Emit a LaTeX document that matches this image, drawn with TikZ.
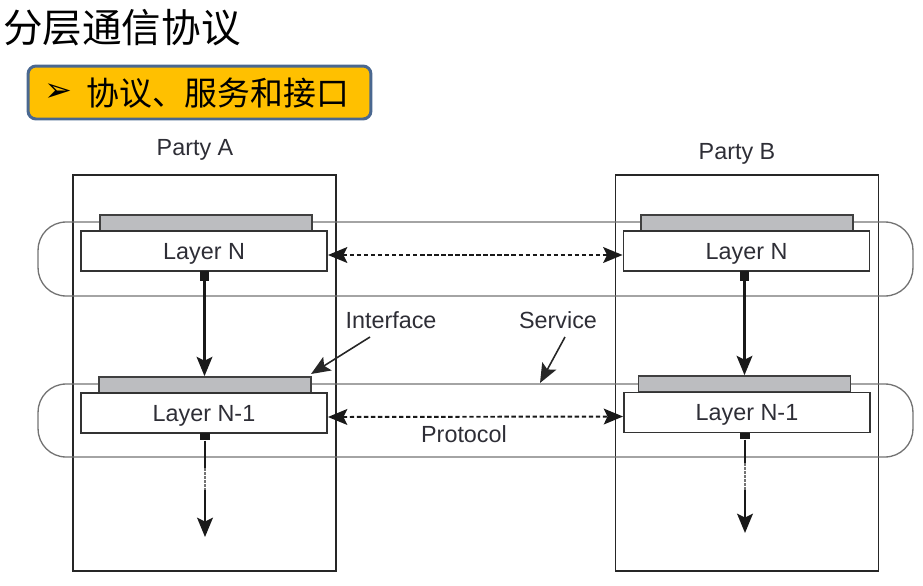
\documentclass[tikz,border=0pt]{standalone}
\usepackage{fontspec}
\setmainfont{Liberation Sans}
\newfontfamily\cjk{Noto Sans CJK SC}
\newfontfamily\dejavu{DejaVu Sans}
\usetikzlibrary{arrows.meta}
\definecolor{orangefill}{HTML}{FFC000}
\definecolor{boxborder}{HTML}{4A6890}
\definecolor{bargray}{HTML}{BCBDC0}
\definecolor{txt}{HTML}{2E2E36}
\begin{document}
\begin{tikzpicture}[x=0.02cm,y=-0.02cm,
 partybox/.style={draw=black!85, line width=0.9pt, minimum width=5.26cm, minimum height=7.92cm, inner sep=0pt},
 band/.style={draw=black!55, line width=0.75pt, rounded corners=0.56cm, minimum width=17.5cm, inner sep=0pt},
 layerbox/.style={draw=black!80, fill=white, line width=1.1pt, minimum width=4.92cm, minimum height=0.8cm, inner sep=0pt, text depth=0pt, font=\fontsize{13.3}{15}\selectfont, text=txt},
 bar/.style={draw=black!75, fill=bargray, line width=1pt, minimum width=4.24cm, minimum height=0.32cm, inner sep=0pt},
 sq/.style={fill=black!90, minimum size=0.19cm, inner sep=0pt},
 lbl/.style={font=\fontsize{13.3}{15}\selectfont, text=txt, inner sep=0pt},
 plainline/.style={line width=1.3pt, draw=black!90},
 brokenline/.style={line width=1.3pt, draw=black!55, dash pattern=on 1.5pt off 0.8pt},
 arr/.style={line width=1.3pt, draw=black!90, -{Stealth[length=11pt,width=9pt,inset=2.2pt]}},
 thinarr/.style={line width=0.9pt, draw=black!85, -{Stealth[length=11pt,width=9pt,inset=2.2pt]}},
 darr/.style={line width=1.1pt, draw=black!90, dash pattern=on 2.5pt off 1.5pt, {Stealth[length=11pt,width=9pt,inset=2.2pt]}-{Stealth[length=11pt,width=9pt,inset=2.2pt]}},
]
\useasboundingbox (0,0) rectangle (923,585);

% title
\node[anchor=west, inner sep=0pt, font=\cjk\fontsize{22.5}{26}\selectfont] (title) at (3,28) {分层通信协议};
\node[draw=boxborder, fill=orangefill, line width=1.7pt, rounded corners=0.16cm, minimum width=6.86cm, minimum height=1.06cm, inner sep=0pt] (sub) at (199.5,92.5) {};
\node[inner sep=0pt, font=\dejavu\fontsize{19}{21}\selectfont] (bullet) at (58,93) {➢};
\node[anchor=west, inner sep=0pt, font=\cjk\fontsize{18.7}{22}\selectfont] (subtext) at (86,93) {协议、服务和接口};

% parties
\node[partybox] (PA) at (204.5,373) {};
\node[partybox] (PB) at (747,373) {};
\node[lbl] (pa) at (195,150) {Party A};
\node[lbl] (pb) at (737,154) {Party B};

% bands
\node[band, minimum height=1.48cm] (bandN) at (475.5,259) {};
\node[band, minimum height=1.46cm] (bandN1) at (475.5,420.5) {};

% layers
\node[bar] (barNA) at (206,223) {};
\node[bar] (barNB) at (747,223) {};
\node[bar] (barN1A) at (205,385) {};
\node[bar] (barN1B) at (744.5,384) {};
\node[layerbox] (LNA) at (204,251) {Layer N};
\node[layerbox] (LNB) at (746.5,251) {Layer N};
\node[layerbox] (LN1A) at (204,413) {Layer N-1};
\node[layerbox] (LN1B) at (747,412.5) {Layer N-1};

% squares
\node[sq, anchor=north] (sqNA) at (204.5,271) {};
\node[sq, anchor=north] (sqNB) at (744.5,271) {};
\node[sq, anchor=north, minimum height=0.14cm] (sqN1A) at (205,433) {};
\node[sq, anchor=north, minimum height=0.12cm] (sqN1B) at (745,433) {};

% vertical arrows
\draw[arr] (sqNA.south) -- (sqNA.south |- barN1A.north);
\draw[arr] (sqNB.south) -- (sqNB.south |- barN1B.north);

\coordinate (dA1) at (205,468);
\coordinate (dA2) at (205,490);
\coordinate (endA) at (205,537);
\coordinate (dB1) at (745,463);
\coordinate (dB2) at (745,490);
\coordinate (endB) at (745,533);
\draw[plainline] (sqN1A.south) -- (dA1);
\draw[brokenline] (dA1) -- (dA2);
\draw[arr] (dA2) -- (endA);
\draw[plainline] (sqN1B.south) -- (dB1);
\draw[brokenline] (dB1) -- (dB2);
\draw[arr] (dB2) -- (endB);

% protocol arrows
\draw[darr] ([yshift=-0.08cm]LNA.east) -- ([yshift=-0.08cm]LNB.west);
\draw[darr] ([yshift=-0.08cm]LN1A.east) -- ([yshift=-0.08cm]LN1B.west);

% labels
\node[lbl] (iface) at (391,320) {Interface};
\node[lbl] (serv) at (558,320) {Service};
\node[lbl] (prot) at (464,434) {Protocol};
\coordinate (ifs) at (370,337);
\coordinate (ife) at (311,374);
\coordinate (svs) at (565,337);
\coordinate (sve) at (540,383);
\draw[thinarr] (ifs) -- (ife);
\draw[thinarr] (svs) -- (sve);
\end{tikzpicture}
\end{document}
